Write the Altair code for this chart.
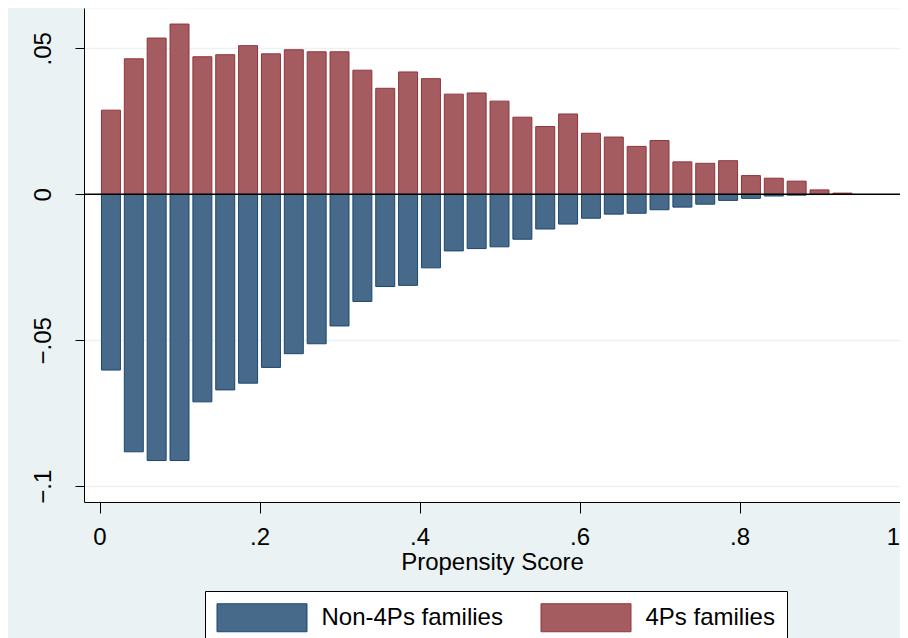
import altair as alt
import pandas as pd

# Histogram bins (35 equal bins on [0,1]); values are densities/fractions per bin
n_bins = 35
bin_index = list(range(33))
fourps = [0.0288, 0.0464, 0.0535, 0.0583, 0.0471, 0.0478, 0.0509, 0.0481, 0.0495, 0.0488,
          0.0488, 0.0425, 0.0363, 0.0419, 0.0396, 0.0343, 0.0347, 0.0319, 0.0264, 0.0232,
          0.0275, 0.0209, 0.0196, 0.0164, 0.0184, 0.0111, 0.0106, 0.0115, 0.0064, 0.0055,
          0.0045, 0.0015, 0.0004]
non4ps = [-0.0602, -0.0882, -0.0912, -0.0912, -0.0711, -0.0670, -0.0647, -0.0593, -0.0546, -0.0512,
          -0.0451, -0.0367, -0.0316, -0.0312, -0.0252, -0.0194, -0.0186, -0.0180, -0.0154, -0.0119,
          -0.0102, -0.0082, -0.0068, -0.0065, -0.0053, -0.0044, -0.0034, -0.0021, -0.0014, -0.0006,
          -0.0003, -0.0001, 0.0]
series = ["Non-4Ps families", "4Ps families"]
fill_colors = ["#476A8B", "#A55C61"]
stroke_colors = ["#1A476F", "#90353B"]
x_ticks = [0, 0.2, 0.4, 0.6, 0.8, 1]
y_ticks = [-0.1, -0.05, 0, 0.05]

rows = []
half = 0.83 / n_bins / 2
for i, a, b in zip(bin_index, non4ps, fourps):
    c = (i + 0.5) / n_bins
    rows.append({"group": series[0], "x0": c - half, "x1": c + half, "v": a})
    rows.append({"group": series[1], "x0": c - half, "x1": c + half, "v": b})
df = pd.DataFrame(rows)

FONT = "Liberation Sans"

xscale = alt.Scale(domain=[-0.0194, 1.0006], nice=False, zero=False)
yscale = alt.Scale(domain=[-0.1054, 0.0638], nice=False, zero=False)

bars = alt.Chart(df).mark_rect(strokeWidth=1).encode(
    x=alt.X("x0:Q", scale=xscale, title="Propensity Score",
            axis=alt.Axis(values=x_ticks, grid=False, tickSize=11, labelPadding=12,
                          labelExpr="replace(format(datum.value, '.1~f'), '0.', '.')",
                          labelAlign=alt.condition("datum.value >= 1", alt.value("right"), alt.value("center")),
                          titlePadding=1)),
    x2="x1:Q",
    y=alt.Y("v:Q", scale=yscale, title=None,
            axis=alt.Axis(values=y_ticks, grid=True, tickSize=9, labelAngle=270,
                          labelAlign="center", labelBaseline="bottom", labelPadding=20,
                          labelExpr="replace(format(datum.value, '.2~f'), '0.', '.')")),
    y2=alt.datum(0),
    fill=alt.Fill("group:N", scale=alt.Scale(domain=series, range=fill_colors),
                  legend=alt.Legend(orient="none", legendX=121, legendY=583,
                                    direction="horizontal", title=None,
                                    symbolType="M-3.214,-1L3.214,-1L3.214,1L-3.214,1Z",
                                    symbolSize=784, symbolOffset=30.5, labelOffset=45,
                                    symbolStrokeWidth=1, labelFontSize=24, labelFont=FONT,
                                    labelColor="black", labelLimit=400,
                                    columnPadding=36, padding=12,
                                    fillColor="white", strokeColor="black")),
    stroke=alt.Stroke("group:N", scale=alt.Scale(domain=series, range=stroke_colors),
                      legend=None),
)

zero = alt.Chart(pd.DataFrame({"z": [0]})).mark_rule(color="black", strokeWidth=1.5).encode(
    y=alt.Y("z:Q", scale=yscale)
)

chart = (bars + zero).properties(
    width=816, height=494,
    autosize=alt.AutoSizeParams(type="none"),
    padding={"left": 76, "top": 0, "right": 0, "bottom": 136},
    background="#EAF2F3",
).configure_view(fill="white", stroke="transparent").configure_axis(
    labelFont=FONT, titleFont=FONT, labelFontSize=24, titleFontSize=24,
    titleFontWeight="normal", labelColor="black", titleColor="black",
    domainColor="black", domainWidth=1, tickColor="black", tickWidth=1,
    gridColor="#EAF2F3", gridWidth=1.5,
)

chart.save("out.html", embed_options={"renderer": "svg", "actions": False})
